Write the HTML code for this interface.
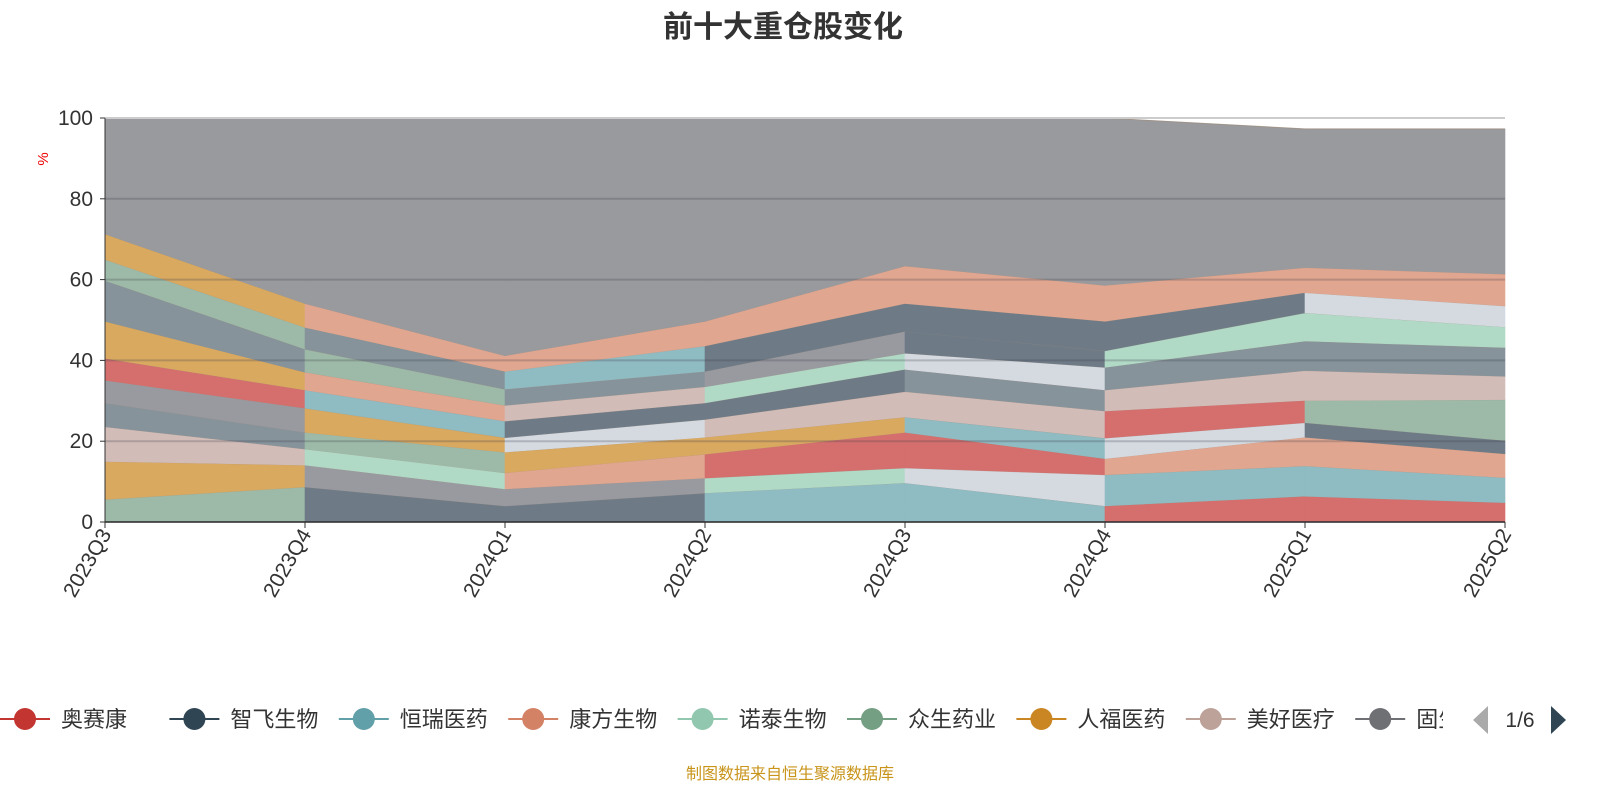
<!DOCTYPE html>
<html><head><meta charset="utf-8"><style>
html,body{margin:0;padding:0;background:#fff;width:1600px;height:800px;overflow:hidden;font-family:"Liberation Sans","Noto Sans CJK SC",sans-serif;}
svg text{font-family:"Liberation Sans","Noto Sans CJK SC",sans-serif;}
</style></head><body>
<svg id="chart" width="1600" height="800" xmlns="http://www.w3.org/2000/svg">
<text x="783" y="37" text-anchor="middle" font-size="30" font-weight="bold" fill="#333">前十大重仓股变化</text>
<text x="0" y="0" transform="translate(48,159) rotate(-90)" text-anchor="middle" font-size="15" fill="#e00">%</text>
<g id="areas"></g>
<g id="grid"></g>
<g id="axes"></g>
<g id="legend"></g>
<text x="790" y="779" text-anchor="middle" font-size="16" fill="#c8941a">制图数据来自恒生聚源数据库</text>
</svg>
<script>
const categories = ["2023Q3","2023Q4","2024Q1","2024Q2","2024Q3","2024Q4","2025Q1","2025Q2"];
const yTicks = [0,20,40,60,80,100];
const layer0 = [5.6,8.7,4,7.2,9.7,4,6.4,4.8];
const layer1 = [9.4,5.4,4.2,3.7,3.7,7.7,7.5,6.2];
const layer2 = [8.6,4,4,5.9,8.8,4,7.1,5.9];
const layer3 = [5.9,4.1,5.1,4.2,3.8,5.1,3.6,3.3];
const layer4 = [5.6,6,3.6,4.4,6.3,6.7,5.5,10.1];
const layer5 = [5.4,4.5,4.1,4.1,5.5,5.2,7.4,5.8];
const layer6 = [9.2,4.4,3.9,4,4,5.6,7.3,7.1];
const layer7 = [10.1,5.7,4,3.8,5.4,4.1,7,5.1];
const layer8 = [5.2,5.4,4.4,6.3,6.9,7.3,5,5.2];
const layer9 = [6.3,5.9,3.9,6.1,9.3,8.9,6.2,7.9];
const layerTop = [28.7,45.9,58.8,50.3,36.6,41.4,34.3,35.9];
const legendNames = ["奥赛康","智飞生物","恒瑞医药","康方生物","诺泰生物","众生药业","人福医药","美好医疗","固生堂"];

const C={red:"#d46f6e",slate:"#6e7b87",teal:"#8fbbc2",salmon:"#e0a690",lgreen:"#b0d9c6",sage:"#9dbaa8",orange:"#d9a960",pink:"#d2bcb8",gblue:"#86939b",gray:"#999aa0",white:"#d5dae1",top:"#999a9e"};
const segColors=[
 ["sage","slate","slate","teal","teal","red","red"],
 ["orange","gray","gray","lgreen","white","teal","teal"],
 ["pink","lgreen","salmon","red","red","salmon","salmon"],
 ["gblue","sage","orange","orange","teal","white","slate"],
 ["gray","orange","white","pink","pink","red","sage"],
 ["red","teal","slate","slate","gblue","pink","pink"],
 ["orange","salmon","pink","lgreen","white","gblue","gblue"],
 ["gblue","sage","gblue","gray","slate","lgreen","lgreen"],
 ["sage","gblue","teal","slate","slate","slate","white"],
 ["orange","salmon","salmon","salmon","salmon","salmon","salmon"],
 ["top","top","top","top","top","top","top"]];
const layers=[layer0,layer1,layer2,layer3,layer4,layer5,layer6,layer7,layer8,layer9,layerTop];
const X0=105,X1=1505,Y0=522,Y1=118;
const xs=i=>X0+i*(X1-X0)/(categories.length-1);
const ys=v=>Y0-(v/100)*(Y0-Y1);
const NS="http://www.w3.org/2000/svg";
function mk(t,a,p){const e=document.createElementNS(NS,t);for(const k in a)e.setAttribute(k,a[k]);p.appendChild(e);return e;}
const areas=document.getElementById('areas');
let base=categories.map(()=>0);
layers.forEach((L,li)=>{
  const top=base.map((b,i)=>b+L[i]);
  for(let i=0;i<categories.length-1;i++){
    const pts=[[xs(i),ys(base[i])],[xs(i+1),ys(base[i+1])],[xs(i+1),ys(top[i+1])],[xs(i),ys(top[i])]];
    const p=mk('polygon',{points:pts.map(q=>q.join(',')).join(' '),fill:C[segColors[li][i]],stroke:C[segColors[li][i]],'stroke-width':0.6},areas);
    
    
  }
  const ln=mk('polyline',{points:top.map((v,i)=>xs(i)+','+ys(v)).join(' '),fill:'none',stroke:'rgba(160,140,120,0.6)','stroke-width':1},areas);
  
  
  base=top;
});
const grid=document.getElementById('grid');
yTicks.forEach(t=>{
  const g=mk('line',{x1:X0,x2:X1,y1:ys(t),y2:ys(t),stroke:t==100?'#ccc':'rgba(60,60,70,0.25)','stroke-width':2},grid);
  
  
});
const axes=document.getElementById('axes');
mk('line',{x1:X0,x2:X0,y1:Y1,y2:Y0,stroke:'#333','stroke-width':1},axes);
mk('line',{x1:X0,x2:X1,y1:Y0,y2:Y0,stroke:'#333','stroke-width':1.5},axes);
yTicks.forEach(t=>{
  mk('line',{x1:X0-5,x2:X0,y1:ys(t),y2:ys(t),stroke:'#333'},axes);
  const tx=mk('text',{x:X0-12,y:ys(t)+7,'text-anchor':'end','font-size':21,fill:'#333'},axes);
  tx.textContent=t;
  
  
});
categories.forEach((c,i)=>{
  mk('line',{x1:xs(i),x2:xs(i),y1:Y0,y2:Y0+6,stroke:'#333'},axes);
  const tx=mk('text',{x:0,y:0,transform:`translate(${xs(i)+7},${Y0+12}) rotate(-60)`,'text-anchor':'end','font-size':21,fill:'#333'},axes);
  tx.textContent=c;
  
  
});
const legend=document.getElementById('legend');
const lcol=["#c23531","#2f4554","#61a0a8","#d48265","#91c7ae","#749f83","#ca8622","#bda29a","#6e7074"];
legendNames.forEach((n,i)=>{
  const cx=25+i*169.4;
  const g=mk('g',{},legend);
  
  
  mk('line',{x1:cx-25,x2:cx+25,y1:719,y2:719,stroke:lcol[i],'stroke-width':2},g);
  mk('circle',{cx:cx,cy:719,r:11,fill:lcol[i]},g);
  const t=mk('text',{x:cx+36,y:727,'font-size':22,fill:'#333'},g);
  t.textContent=n;
});
mk('rect',{x:1443,y:690,width:160,height:60,fill:'#fff'},legend);
const pl=mk('polygon',{points:'1488,706 1488,734 1473,720',fill:'#aaa'},legend);


const pt=mk('text',{x:1520,y:727,'text-anchor':'middle','font-size':21,fill:'#333'},legend);
pt.textContent='1/6';


const pn=mk('polygon',{points:'1551,706 1551,734 1566,720',fill:'#2f4554'},legend);


</script>
</body></html>
